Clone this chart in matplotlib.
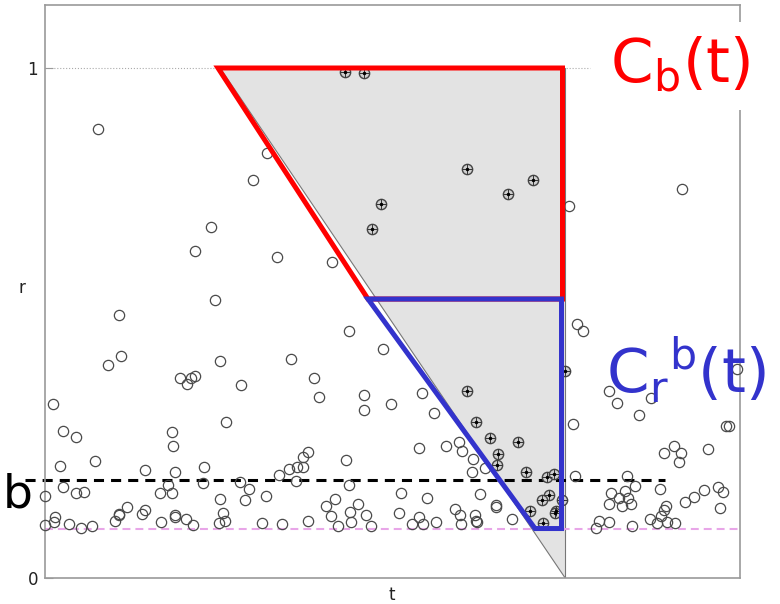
import matplotlib
matplotlib.use("Agg")
import matplotlib.pyplot as plt
from matplotlib.patches import Polygon

# ---------------- data ----------------
# open circles (t, r)
a_t = [52.7, 221.5, 208.3, 166.3, 149.8, 231.5, 286.7, 170.1, 74.3, 304.0, 524.2, 637.3, 532.0, 537.7]
a_r = [0.880, 0.834, 0.780, 0.689, 0.641, 0.630, 0.620, 0.546, 0.516, 0.484, 0.730, 0.763, 0.499, 0.484]

b_t = [337.7, 62.5, 76.0, 174.5, 246.3, 135.0, 142.0, 145.5, 150.3, 269.3, 195.5, 274.0, 7.7, 319.0,
       319.3, 346.0, 181.3, 18.2, 31.2, 127.3, 128.0]
b_r = [0.450, 0.418, 0.435, 0.425, 0.430, 0.393, 0.381, 0.392, 0.397, 0.393, 0.378, 0.354, 0.341, 0.358,
       0.330, 0.341, 0.305, 0.288, 0.276, 0.286, 0.258]

c_t = [14.7, 50.0, 99.7, 129.7, 158.7, 301.0, 263.3, 257.7, 251.7, 257.7, 244.0, 234.3, 251.0, 158.0,
       195.3, 204.0, 123.0, 18.3, 30.7, 39.3, 0.3, 114.7, 126.7, 304.0, 221.0, 175.3, 200.0, 289.7,
       281.0, 313.0]
c_r = [0.220, 0.230, 0.212, 0.208, 0.217, 0.232, 0.247, 0.237, 0.217, 0.218, 0.213, 0.201, 0.191, 0.187,
       0.188, 0.175, 0.183, 0.178, 0.166, 0.168, 0.161, 0.166, 0.166, 0.182, 0.161, 0.154, 0.152, 0.154,
       0.141, 0.145]

d_t = [82.3, 74.3, 73.7, 100.0, 97.0, 130.3, 129.7, 178.0, 305.0, 286.0, 321.0, 9.7, 9.0, 0.0, 23.7,
       35.7, 47.3, 70.3, 115.7, 141.0, 148.0, 174.0, 180.0, 217.0, 237.3, 263.0, 292.7, 305.7, 326.0]
d_r = [0.139, 0.125, 0.123, 0.134, 0.126, 0.123, 0.120, 0.128, 0.129, 0.122, 0.123, 0.119, 0.110, 0.103,
       0.105, 0.099, 0.102, 0.111, 0.110, 0.116, 0.103, 0.107, 0.112, 0.108, 0.106, 0.112, 0.101, 0.110,
       0.102]

e_t = [377.0, 389.2, 373.7, 401.3, 414.0, 416.8, 427.5, 427.0, 439.5, 356.3, 381.7, 434.8, 353.7, 374.0,
       367.0, 378.3, 390.5, 409.5, 414.7, 416.0, 430.3, 432.0, 431.0, 451.3, 450.7, 467.0, 528.2, 530.0]
e_r = [0.362, 0.323, 0.255, 0.259, 0.267, 0.250, 0.233, 0.207, 0.216, 0.166, 0.157, 0.164, 0.127, 0.119,
       0.106, 0.105, 0.109, 0.136, 0.123, 0.106, 0.123, 0.109, 0.112, 0.144, 0.139, 0.115, 0.302, 0.200]

f_t = [564.3, 572.3, 606.0, 593.7, 681.3, 684.0, 691.7, 628.8, 619.0, 635.5, 633.7, 662.7, 582.0, 590.3,
       615.0, 566.2, 579.8, 574.0, 582.8, 563.8, 576.5, 585.5, 659.0, 673.0, 678.3, 648.7, 640.3, 674.7,
       620.8, 618.7, 615.5, 605.2, 611.8, 621.7, 630.3, 554.2, 551.0, 563.5, 587.3]
f_r = [0.367, 0.344, 0.353, 0.319, 0.299, 0.299, 0.409, 0.259, 0.245, 0.245, 0.227, 0.253, 0.200, 0.180,
       0.175, 0.166, 0.170, 0.156, 0.156, 0.146, 0.142, 0.145, 0.173, 0.178, 0.168, 0.158, 0.149, 0.138,
       0.142, 0.133, 0.122, 0.116, 0.107, 0.110, 0.107, 0.112, 0.099, 0.110, 0.101]

# highlighted (dotted) points inside the region
dot_t = [300.0, 319.0, 422.3, 487.8, 463.3, 335.5, 326.5, 519.5, 422.2, 431.0, 445.2, 472.8, 452.5,
         452.0, 480.7, 501.8, 508.8, 503.8, 497.0, 510.5, 509.7, 485.0, 497.5, 517.2]
dot_r = [0.992, 0.990, 0.802, 0.780, 0.753, 0.733, 0.684, 0.406, 0.367, 0.305, 0.275, 0.266, 0.244,
         0.221, 0.207, 0.199, 0.204, 0.163, 0.152, 0.131, 0.128, 0.131, 0.108, 0.153]

# geometry of the regions
tri_t = [175.0, 520.3, 520.3]
tri_r = [1.0, 1.0, 0.0]
red_t = [173.0, 517.5, 517.5, 323.0]
red_r = [1.0, 1.0, 0.547, 0.547]
blue_t = [323.0, 516.5, 516.5, 490.0]
blue_r = [0.547, 0.547, 0.097, 0.097]

r_b = 0.192        # black dashed level
r_min = 0.097      # pink dashed level
t_span = (0.0, 695.0)

# ---------------- figure ----------------
W, H = 780, 604
fig = plt.figure(figsize=(W / 100, H / 100), dpi=100)
ax = fig.add_axes([45 / W, 26 / H, 695 / W, 573 / H])
ax.set_xlim(*t_span)
ax.set_ylim(0, 573 / 510)

for s in ax.spines.values():
    s.set_color('#9a9a9a')
    s.set_linewidth(1.2)
ax.set_xticks([])
ax.set_yticks([0, 1])
ax.set_yticklabels(['0', '1'])
ax.tick_params(axis='y', direction='in', length=6, color='#9a9a9a', labelsize=12,
               pad=5, labelcolor='#222222')

# dotted line at r = 1
ax.plot([0, 545], [1, 1], color='#aaaaaa', lw=0.8, ls=':', zorder=1)

# grey region
ax.add_patch(Polygon(list(zip(tri_t, tri_r)), closed=True, fc='#e3e3e3', ec='#777777',
                     lw=0.8, zorder=1))

# dashed levels
ax.plot(t_span, [r_min, r_min], color='#e8a6e8', lw=1.5, ls=(0, (3.8, 2.4)), zorder=2)
ax.plot([-20, 620], [r_b, r_b], color='black', lw=2.2, ls=(0, (3.3, 2.3)), zorder=2,
        clip_on=False)

# open circles
for tt, rr in [(a_t, a_r), (b_t, b_r), (c_t, c_r), (d_t, d_r), (e_t, e_r), (f_t, f_r)]:
    ax.plot(tt, rr, 'o', ms=7.4, mfc='none', mec='#4a4a4a', mew=0.9, zorder=3, clip_on=False)

# dotted points
ax.plot(dot_t, dot_r, 'o', ms=7.4, mfc='#cfcfcf', mec='#444444', mew=1.0, zorder=3)
ax.plot(dot_t, dot_r, '+', ms=7, color='#333333', mew=0.7, zorder=3)
ax.plot(dot_t, dot_r, '.', ms=3, color='black', zorder=3)

# region outlines
ax.add_patch(Polygon(list(zip(red_t, red_r)), closed=True, fill=False, ec='#ff0000',
                     lw=3.6, joinstyle='miter', zorder=5))
ax.add_patch(Polygon(list(zip(blue_t, blue_r)), closed=True, fill=False, ec='#3333cc',
                     lw=3.6, joinstyle='miter', zorder=6))

# texts
fig.text(610 / W, 1 - 83 / H, r'$\mathregular{C_b(t)}$', color='#ff0000', fontsize=44,
         va='baseline', ha='left',
         bbox=dict(fc='white', ec='none', pad=10))
fig.text(606 / W, 1 - 392 / H, r'$\mathregular{C_r{}^b(t)}$', color='#3333cc', fontsize=44,
         va='baseline', ha='left')
fig.text(3 / W, 1 - 508 / H, 'b', fontsize=34, va='baseline', ha='left', color='black')
fig.text(22 / W, 1 - 288 / H, 'r', fontsize=12, ha='center', va='center', color='#222222')
fig.text(392 / W, 1 - 595 / H, 't', fontsize=12, ha='center', va='center', color='#222222')

fig.savefig('out.png', dpi=100)
